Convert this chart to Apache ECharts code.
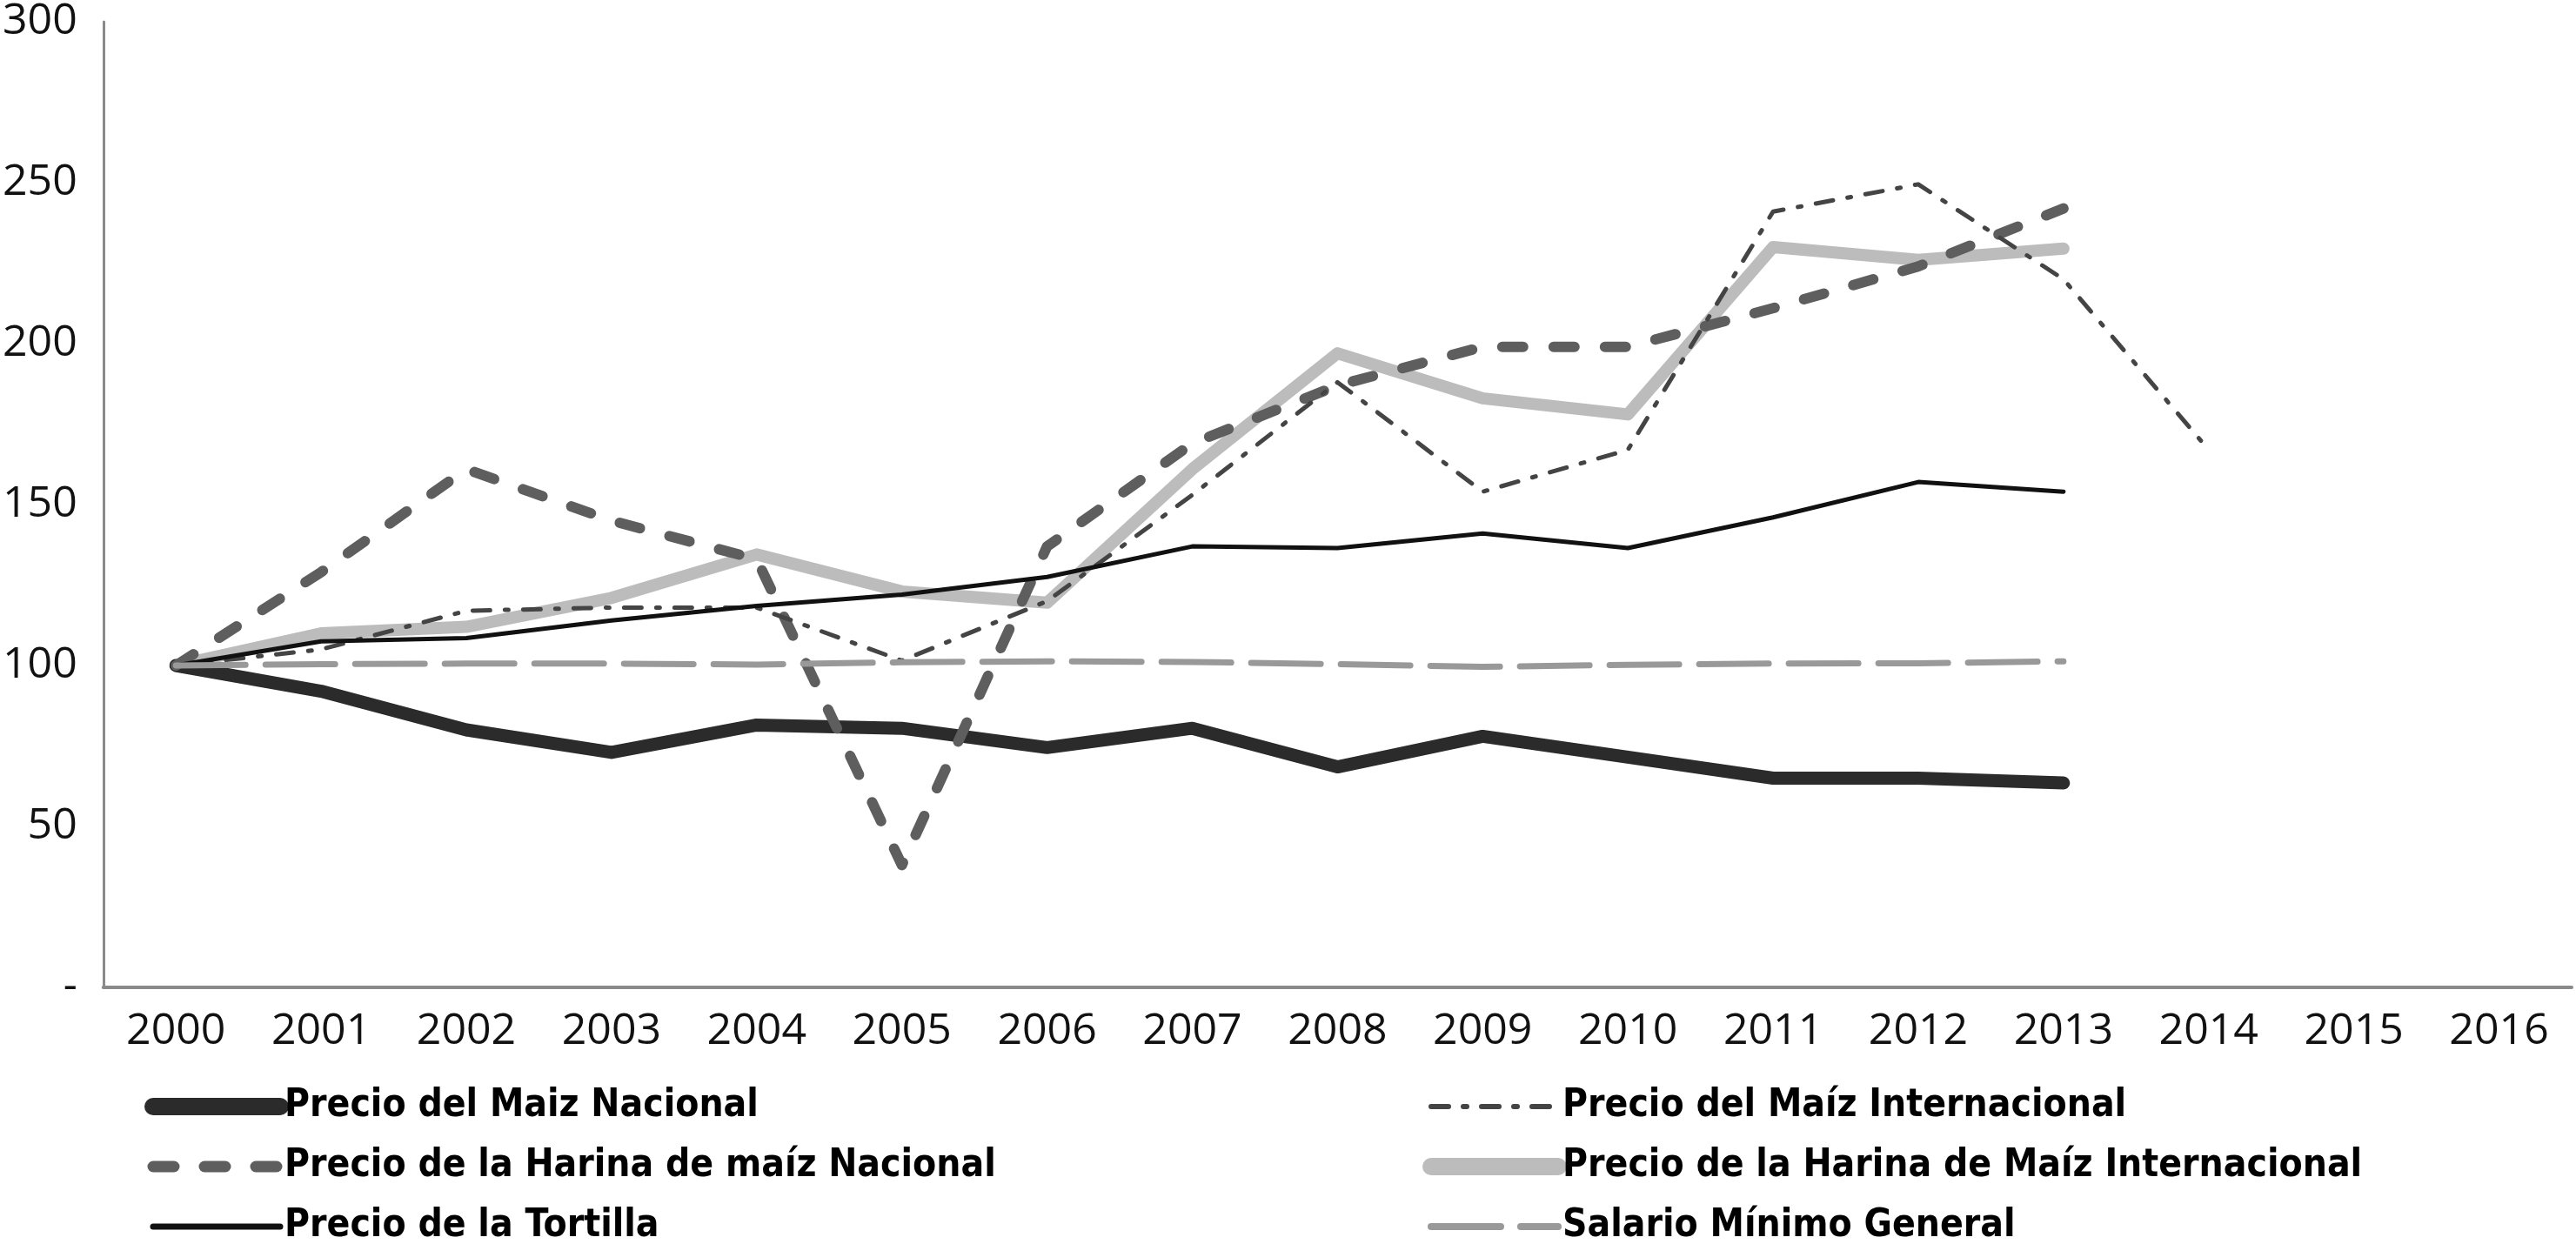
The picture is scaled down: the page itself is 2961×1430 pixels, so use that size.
<!DOCTYPE html>
<html>
<head>
<meta charset="utf-8">
<script src="https://cdn.jsdelivr.net/npm/echarts@6/dist/echarts.min.js"></script>
<style>
html,body{margin:0;padding:0;background:#fff;}
#chart{width:2961px;height:1430px;}
</style>
</head>
<body>
<div id="chart"></div>
<script>
const years = ['2000','2001','2002','2003','2004','2005','2006','2007','2008','2009','2010','2011','2012','2013','2014','2015','2016'];
const yTicks = [0, 50, 100, 150, 200, 250, 300];

const maizNacional      = [100, 92, 80, 73, 81.5, 80.5, 74.5, 80.5, 68.5, 78, 71.5, 65, 65, 63.5];
const maizInternacional = [100, 105, 117, 118, 118, 101.5, 120, 153, 188, 154, 167, 241, 249.5, 220, 167];
const harinaNacional    = [100, 129, 161, 145, 133, 38, 137, 169, 187, 199, 199, 211, 224, 242];
const harinaInternac    = [100, 110, 112, 121, 134.5, 123, 119.5, 161, 197, 183, 178, 230, 226, 229.5];
const tortilla          = [100, 107.5, 108.5, 114, 118.5, 122, 127.5, 137, 136.5, 141, 136.5, 146, 157, 154];
const salario           = [100, 100.4, 100.6, 100.6, 100.3, 101, 101.3, 101.1, 100.4, 99.6, 100.2, 100.6, 100.7, 101.3];

const names = {
  mn: 'Precio del Maiz Nacional',
  mi: 'Precio del Maíz Internacional',
  hn: 'Precio de la Harina de maíz Nacional',
  hi: 'Precio de la Harina de Maíz Internacional',
  t:  'Precio de la Tortilla',
  s:  'Salario Mínimo General'
};

const styles = {
  mn: {color:'#2b2b2b', width:15, lw:20, type:'solid'},
  mi: {color:'#444444', width:5, lw:6, type:[20,17,4,17]},
  hn: {color:'#5e5e5e', width:12, lw:13, type:[24,35]},
  hi: {color:'#bcbcbc', width:14, lw:20, type:'solid'},
  t:  {color:'#111111', width:5, lw:7, type:'solid'},
  s:  {color:'#999999', width:7, lw:8, type:[80,23]}
};

function mkSeries(key, data, z){
  const st = styles[key];
  return {
    name: names[key], type:'line', data: data, symbol:'none', z: z,
    animation:false,
    lineStyle:{color:st.color, width:st.width, type:st.type, cap:'round', join:'round'},
    itemStyle:{color:st.color}
  };
}

const legendText = {
  color:'#000', fontSize:44, fontWeight:'bold',
  fontFamily:'"Liberation Sans Narrow","DejaVu Sans Condensed","Liberation Sans",sans-serif'
};
function legendItem(key){
  const st = styles[key];
  return {name:names[key], itemStyle:{opacity:0}, lineStyle:{color:st.color, width:st.lw, type:st.type, cap:'round'}};
}

const chart = echarts.init(document.getElementById('chart'), null, {renderer:'canvas'});
chart.setOption({
  backgroundColor:'#fff',
  animation:false,
  grid:{left:115, right:5, top:22, bottom:295, containLabel:false},
  xAxis:{
    type:'category', data:years, boundaryGap:true,
    axisLine:{show:true, lineStyle:{color:'#8a8a8a', width:4}},
    axisTick:{show:false},
    axisLabel:{color:'#111', fontSize:50, fontFamily:'"Open Sans","Liberation Sans",sans-serif', margin:26, interval:0}
  },
  yAxis:{
    type:'value', min:yTicks[0], max:yTicks[yTicks.length-1], interval:50,
    axisLine:{show:true, lineStyle:{color:'#8a8a8a', width:3}},
    axisTick:{show:false},
    splitLine:{show:false},
    axisLabel:{color:'#111', fontSize:50, fontFamily:'"Open Sans","Liberation Sans",sans-serif', margin:30,
      formatter: v => v === 0 ? '-' : String(v)}
  },
  legend:[
    {orient:'vertical', left:166, top:1250, width:1300, height:260, itemWidth:146, itemHeight:20, itemGap:25, padding:0,
     textStyle:legendText,
     data:[legendItem('mn'), legendItem('hn'), legendItem('t')]},
    {orient:'vertical', left:1635, top:1250, width:1300, height:260, itemWidth:146, itemHeight:20, itemGap:25, padding:0,
     textStyle:legendText,
     data:[legendItem('mi'), legendItem('hi'), legendItem('s')]}
  ],
  series:[
    mkSeries('hi', harinaInternac, 2),
    mkSeries('mn', maizNacional, 3),
    mkSeries('hn', harinaNacional, 4),
    mkSeries('mi', maizInternacional, 5),
    mkSeries('t', tortilla, 6),
    mkSeries('s', salario, 7)
  ]
});
</script>
</body>
</html>
